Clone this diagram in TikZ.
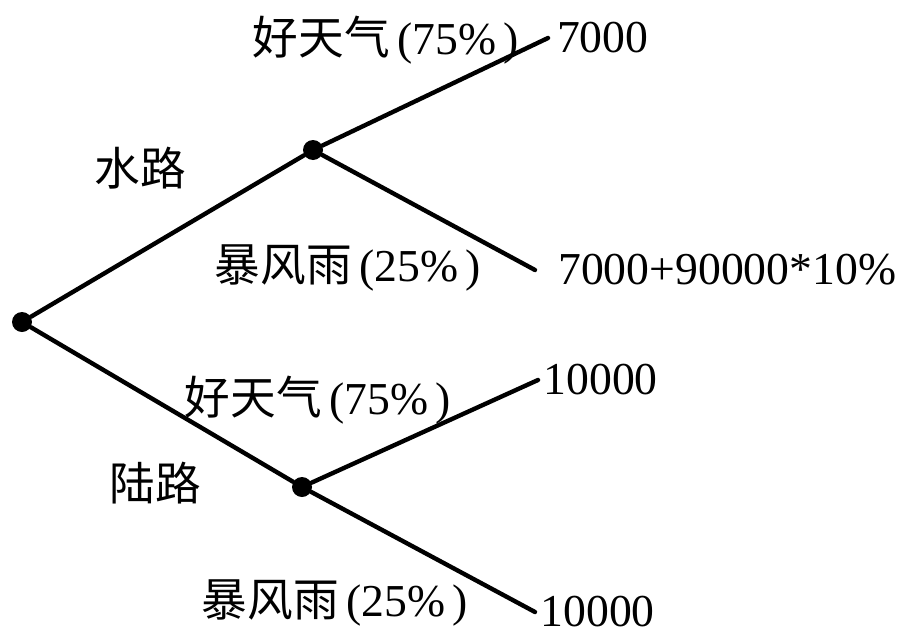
\documentclass[tikz,border=0pt]{standalone}
\usepackage{fontspec}
\setmainfont{Liberation Serif}
\newfontfamily\cjk{Noto Sans CJK SC}
\usetikzlibrary{positioning}

\tikzset{
  chance/.style={circle, fill=black, inner sep=0pt, minimum size=0.4cm},
  branch/.style={line width=2.5pt, line cap=round},
  payoff/.style={inner sep=0pt, font=\fontsize{26}{30}\selectfont},
  lbl/.style={inner sep=0pt, font=\fontsize{26}{30}\selectfont},
}

\begin{document}
\begin{tikzpicture}[x=0.02cm, y=-0.02cm]
\useasboundingbox (0,0) rectangle (912,636);

% decision points
\node[chance] (root) at (22,322) {};
\node[chance] (water) at (313,150) {};
\node[chance] (land) at (302,487) {};

% ends of the branches
\coordinate (wg) at (548,38);
\coordinate (ws) at (535,270);
\coordinate (lg) at (538,380);
\coordinate (ls) at (535,612);

% branches
\draw[branch] (root) -- (water);
\draw[branch] (root) -- (land);
\draw[branch] (water) -- (wg);
\draw[branch] (water) -- (ws);
\draw[branch] (land) -- (lg);
\draw[branch] (land) -- (ls);

% payoffs
\node[payoff, right=5pt of wg] (wgv) {7000};
\node[payoff, right=13pt of ws] (wsv) {7000+90000*10\%};
\node[payoff, right=3pt of lg] (lgv) {10000};
\node[payoff, right=3pt of ls] (lsv) {10000};

% labels
\node[lbl] (wgl) at (386,40) {{\cjk 好天气}\,(75\%\,)};
\node[lbl] (way1) at (140,168) {\cjk 水路};
\node[lbl] (wsl) at (348,268) {{\cjk 暴风雨}\,(25\%\,)};
\node[lbl] (lgl) at (318,400) {{\cjk 好天气}\,(75\%\,)};
\node[lbl] (way2) at (155,483) {\cjk 陆路};
\node[lbl] (lsl) at (335,603) {{\cjk 暴风雨}\,(25\%\,)};

\end{tikzpicture}
\end{document}
